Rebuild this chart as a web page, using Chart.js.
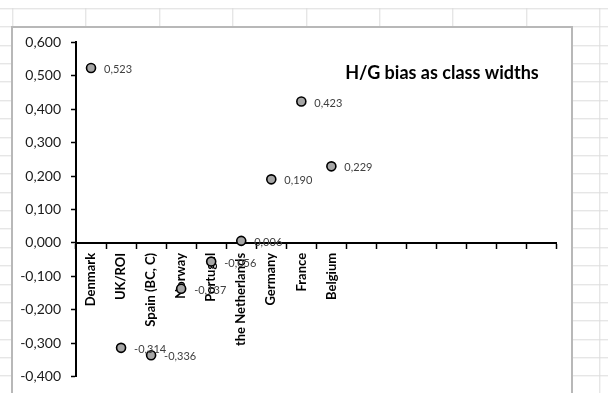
<!DOCTYPE html>
<html>
<head>
<meta charset="utf-8">
<title>H/G bias as class widths</title>
<script src="https://cdn.jsdelivr.net/npm/chart.js@4/dist/chart.umd.min.js"></script>
<style>
  html, body {
    margin: 0;
    padding: 0;
    width: 608px;
    height: 393px;
    overflow: hidden;
    background-color: #fff;
  }
  /* worksheet cells behind the chart */
  .sheet {
    position: absolute;
    left: 0; top: 0;
    width: 608px; height: 393px;
    background-image:
      repeating-linear-gradient(to bottom, #dcdcdc 0, #dcdcdc 1px, transparent 1px, transparent 18.37px),
      repeating-linear-gradient(to right, #dcdcdc 0, #dcdcdc 1px, transparent 1px, transparent 73.4px);
    background-position: 0 8.3px, 12.3px 0;
  }
  .sheet::before {
    content: "";
    position: absolute;
    left: 0; top: 0;
    width: 608px; height: 8px;
    background: #fff;
  }
  .chart-box {
    position: absolute;
    left: 11px;
    top: 26px;
    width: 558px;
    height: 400px;
    background: #fff;
    border: 2px solid #b8b8b8;
  }
  /* slightly taller than the window, bottom edge is cut off */
  .chart-wrap {
    position: absolute;
    left: 0; top: 0;
    width: 608px; height: 395px;
  }
</style>
</head>
<body>
<div class="sheet"></div>
<div class="chart-box"></div>
<div class="chart-wrap"><canvas id="biasChart"></canvas></div>

<script>
// countries on the category axis, trailing slots left blank
const countries = [
  "Denmark", "UK/ROI", "Spain (BC, C)", "Norway", "Portugal",
  "the Netherlands", "Germany", "France", "Belgium",
  "", "", "", "", "", "", ""
];
const biasValues = [0.523, -0.314, -0.336, -0.137, -0.056, 0.006, 0.190, 0.423, 0.229];
const yTicks = { min: -0.4, max: 0.6, step: 0.1 };
const chartTitle = "H/G bias as class widths";

const FONT = "Lato, 'Open Sans', 'Liberation Sans', sans-serif";

function fmt(v) {
    const r = Math.round(v * 1000) / 1000 + 0;
    return r.toFixed(3).replace('.', ',');
}

// value next to each marker
const valueLabels = {
    id: 'valueLabels',
    afterDatasetsDraw(chart) {
        const ctx = chart.ctx;
        const meta = chart.getDatasetMeta(0);
        ctx.save();
        ctx.font = "11px " + FONT;
        ctx.fillStyle = '#404040';
        ctx.textAlign = 'left';
        ctx.textBaseline = 'middle';
        meta.data.forEach((pt, i) => {
            ctx.fillText(fmt(biasValues[i]), pt.x + 13, pt.y + 1.5);
        });
        ctx.restore();
    }
};

// title sits inside the plot, top right
const innerTitle = {
    id: 'innerTitle',
    afterDraw(chart) {
        const ctx = chart.ctx;
        const area = chart.chartArea;
        ctx.save();
        ctx.font = "bold 18px " + FONT;
        ctx.fillStyle = '#000';
        ctx.textAlign = 'right';
        ctx.textBaseline = 'middle';
        ctx.fillText(chartTitle, area.right - 18, area.top + 31);
        ctx.restore();
    }
};

new Chart(document.getElementById('biasChart'), {
    type: 'line',
    data: {
        labels: countries,
        datasets: [{
            data: biasValues,
            showLine: false,
            pointRadius: 4.5,
            pointHoverRadius: 4.5,
            pointBackgroundColor: '#a6a6a6',
            pointBorderColor: '#000',
            pointBorderWidth: 1.6
        }]
    },
    options: {
        responsive: true,
        maintainAspectRatio: false,
        animation: false,
        events: [],
        layout: {
            padding: { left: 12, right: 51.3, top: 42.3, bottom: 16 }
        },
        plugins: {
            legend: { display: false },
            tooltip: { enabled: false }
        },
        scales: {
            x: {
                type: 'category',
                offset: true,
                position: { y: 0 },
                grid: {
                    offset: true,
                    drawOnChartArea: false,
                    tickLength: 5,
                    tickColor: '#000',
                    tickWidth: 1.5
                },
                border: { color: '#000', width: 2 },
                ticks: {
                    autoSkip: false,
                    minRotation: 90,
                    maxRotation: 90,
                    padding: 5,
                    color: '#000',
                    font: { family: FONT, size: 13, weight: 'bold' }
                },
                afterFit: axis => { axis.height = 0; }
            },
            y: {
                min: yTicks.min,
                max: yTicks.max,
                grid: {
                    drawOnChartArea: false,
                    tickLength: 5,
                    tickColor: '#000',
                    tickWidth: 1.5
                },
                border: { color: '#000', width: 2 },
                ticks: {
                    stepSize: yTicks.step,
                    padding: 10,
                    color: '#1a1a1a',
                    font: { family: FONT, size: 14 },
                    callback: v => fmt(v)
                },
                afterFit: axis => { axis.width = 64; }
            }
        }
    },
    plugins: [valueLabels, innerTitle]
});
</script>
</body>
</html>
